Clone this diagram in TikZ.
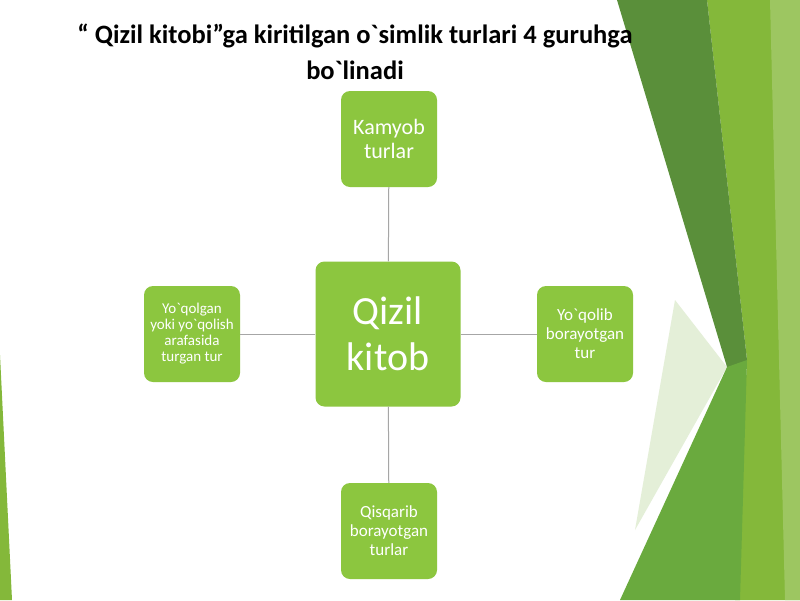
\documentclass[tikz,border=0pt]{standalone}
\usepackage{fontspec}
\setmainfont{Carlito}[Ligatures=TeXOff]
\newcommand\bq{`}
\begin{document}
\begin{tikzpicture}[x=1pt,y=-1pt,
  box/.style={fill=boxg,rounded corners=9pt,text=white,align=center,inner sep=0pt},
  link/.style={draw=gray!70,line width=1pt}]
\definecolor{boxg}{HTML}{8CC63F}
\definecolor{dg}{HTML}{5A8F3A}
\definecolor{lg}{HTML}{84B83A}
\definecolor{mg}{HTML}{6AAA3E}
\definecolor{pg}{HTML}{E4EFD8}
\useasboundingbox (0,0) rectangle (800,600);
\fill[white] (0,0) rectangle (800,600);
% decoration
\fill[pg] (675,300) -- (727,367) -- (635,530) -- cycle;
\fill[lg] (707,0) -- (800,0) -- (800,600) -- (735,600) -- (747,360) -- cycle;
\fill[dg] (617,0) -- (707,0) -- (747,360) -- (740,400) -- (727,367) -- cycle;
\fill[mg] (727,367) -- (747,360) -- (740,600) -- (620,600) -- cycle;
\fill[lg!80!white] (770,0) -- (800,0) -- (800,600) -- (785,600) -- cycle;
\fill[lg] (0,355) -- (12,600) -- (0,600) -- cycle;
% title
\node[font=\fontsize{26.5}{31}\selectfont\bfseries,align=center] (t) at (355,52) {“ Qizil kitobi”ga kiritilgan o\bq simlik turlari 4 guruhga\\[5pt] bo\bq linadi};
% boxes
\node[box,minimum size=145pt,font=\fontsize{40}{46}\selectfont] (c) at (388,334) {Qizil\\kitob};
\node[box,minimum size=96pt,font=\fontsize{22}{24}\selectfont] (n) at (389,139) {Kamyob\\turlar};
\node[box,minimum size=96pt,font=\fontsize{15}{16}\selectfont] (w) at (192,334) {Yo\bq qolgan\\yoki yo\bq qolish\\arafasida\\turgan tur};
\node[box,minimum size=96pt,font=\fontsize{17}{19}\selectfont] (e) at (585,334) {Yo\bq qolib\\borayotgan\\tur};
\node[box,minimum size=96pt,font=\fontsize{17}{19}\selectfont] (s) at (389,531) {Qisqarib\\borayotgan\\turlar};
\draw[link] (c) -- (n); \draw[link] (c) -- (s);
\draw[link] (c) -- (w); \draw[link] (c) -- (e);
\end{tikzpicture}
\end{document}
